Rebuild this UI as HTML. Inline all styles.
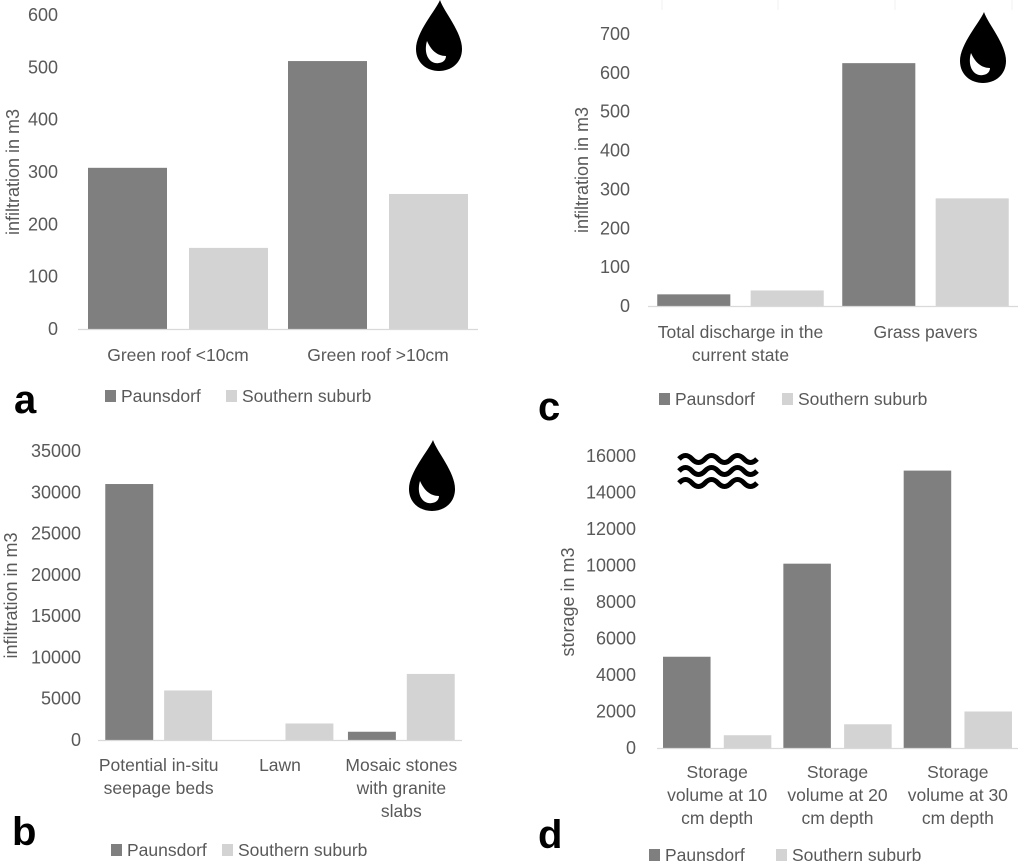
<!DOCTYPE html>
<html><head><meta charset="utf-8"><style>
html,body{margin:0;padding:0;background:#fff;}
svg{display:block;font-family:"Liberation Sans",sans-serif;}
</style></head><body>
<svg id="fig" width="1024" height="863" viewBox="0 0 1024 863" xmlns="http://www.w3.org/2000/svg">
<defs>
<g id="drop">
<path d="M1,-46 C-3,-36 -23,-14 -23,3 C-23,17 -12,25 0,25 C12,25 23,17 23,3 C23,-14 5,-34 1,-46 Z" fill="#000"/>
<path d="M-12,-5 C-15,5 -12,15 -4,17 C2,18 7,15 7,10 C-2,10 -8,4 -12,-5 Z" fill="#fff"/>
</g>
</defs>
</svg>
<script>
// Panel a
const catsA = ["Green roof <10cm", "Green roof >10cm"];
const paunsA = [308, 512];
const southA = [155, 258];
const ticksA = [0, 100, 200, 300, 400, 500, 600];
// Panel c
const catsC = [["Total discharge in the", "current state"], ["Grass pavers"]];
const paunsC = [30, 625];
const southC = [40, 277];
const ticksC = [0, 100, 200, 300, 400, 500, 600, 700];
// Panel b
const catsB = [["Potential in-situ", "seepage beds"], ["Lawn"], ["Mosaic stones", "with granite", "slabs"]];
const paunsB = [31000, 0, 1000];
const southB = [6000, 2000, 8000];
const ticksB = [0, 5000, 10000, 15000, 20000, 25000, 30000, 35000];
// Panel d
const catsD = [["Storage", "volume at 10", "cm depth"], ["Storage", "volume at 20", "cm depth"], ["Storage", "volume at 30", "cm depth"]];
const paunsD = [5000, 10100, 15200];
const southD = [700, 1300, 2000];
const ticksD = [0, 2000, 4000, 6000, 8000, 10000, 12000, 14000, 16000];

const NS = "http://www.w3.org/2000/svg";
const svg = document.getElementById("fig");
function mk(tag, attrs, parent) {
  const e = document.createElementNS(NS, tag);
  for (const k in attrs) e.setAttribute(k, attrs[k]);
  (parent || svg).appendChild(e);
  return e;
}
function txt(str, attrs, parent) { const t = mk("text", attrs, parent); t.textContent = str; return t; }

function panel(cfg) {
  const g = mk("g", {});
  
  
  const maxV = cfg.ticks[cfg.ticks.length - 1];
  const y = v => cfg.y0 - (v / maxV) * (cfg.y0 - cfg.yTop);
  const n = cfg.cats.length;
  const gw = (cfg.x1 - cfg.x0) / n;
  const xs = i => cfg.x0 + i * gw;
  cfg.ticks.forEach(t => {
    const l = txt(String(t), {x: cfg.labX, y: y(t) + 6, "text-anchor": "end", "font-size": 18, fill: "#595959"}, g);
    
    
  });
  const ty = (cfg.y0 + cfg.yTop) / 2;
  const at = txt(cfg.ytitle, {x: cfg.titleX, y: ty, transform: `rotate(-90 ${cfg.titleX} ${ty})`, "text-anchor": "middle", "font-size": 18, fill: "#595959"}, g);
  
  
  for (let i = 0; i < n; i++) {
    const pad = gw * cfg.padFrac, bw = gw * cfg.barFrac, gap = gw - 2 * pad - 2 * bw;
    const bx1 = xs(i) + pad, bx2 = bx1 + bw + gap;
    const vp = cfg.p[i], vs = cfg.s[i];
    const r1 = mk("rect", {x: bx1, y: y(vp), width: bw, height: cfg.y0 - y(vp), fill: "#7f7f7f"}, g);
    
    
    const r2 = mk("rect", {x: bx2, y: y(vs), width: bw, height: cfg.y0 - y(vs), fill: "#d3d3d3"}, g);
    
    
    const lines = Array.isArray(cfg.cats[i]) ? cfg.cats[i] : [cfg.cats[i]];
    lines.forEach((s, k) => {
      const c = txt(s, {x: xs(i) + gw / 2, y: cfg.catY + k * 23, "text-anchor": "middle", "font-size": 17.5, fill: "#595959"}, g);
      
      
    });
  }
  const ax = mk("line", {x1: cfg.x0, x2: cfg.x1, y1: cfg.y0 + 0.5, y2: cfg.y0 + 0.5, stroke: "#d9d9d9", "stroke-width": 1.2}, g);
  
  
  const lg = mk("g", {}, g);
  
  
  const e1 = mk("rect", {x: cfg.legX1, y: cfg.legY - 12, width: 11, height: 12, fill: "#7f7f7f"}, lg);
  
  
  const t1 = txt("Paunsdorf", {x: cfg.legX1 + 16, y: cfg.legY, "font-size": 17.5, fill: "#595959"}, lg);
  
  
  const e2 = mk("rect", {x: cfg.legX2, y: cfg.legY - 12, width: 11, height: 12, fill: "#d3d3d3"}, lg);
  
  
  const t2 = txt("Southern suburb", {x: cfg.legX2 + 16, y: cfg.legY, "font-size": 17.5, fill: "#595959"}, lg);
  
  
  const pl = txt(cfg.letter, {x: cfg.letX, y: cfg.letY, "font-size": 40, "font-weight": "bold", fill: "#000"}, g);
  
  
  return g;
}

panel({name: "chart-a", cats: catsA, p: paunsA, s: southA, ticks: ticksA, y0: 329, yTop: 15, x0: 78, x1: 478,
  padFrac: 0.05, barFrac: 0.395, labX: 58, titleX: 19, ytitle: "infiltration in m3", catY: 361, legX1: 105, legX2: 226, legY: 402, letter: "a", letX: 14, letY: 413});
panel({name: "chart-c", cats: catsC, p: paunsC, s: southC, ticks: ticksC, y0: 306, yTop: 34, x0: 648, x1: 1018,
  padFrac: 0.05, barFrac: 0.395, labX: 630, titleX: 588, ytitle: "infiltration in m3", catY: 338, legX1: 659, legX2: 782, legY: 405, letter: "c", letX: 538, letY: 420});
panel({name: "chart-b", cats: catsB, p: paunsB, s: southB, ticks: ticksB, y0: 740, yTop: 451, x0: 98, x1: 462,
  padFrac: 0.06, barFrac: 0.395, labX: 81, titleX: 17, ytitle: "infiltration in m3", catY: 771, legX1: 111, legX2: 222, legY: 856, letter: "b", letX: 12, letY: 845});
panel({name: "chart-d", cats: catsD, p: paunsD, s: southD, ticks: ticksD, y0: 748, yTop: 456, x0: 657, x1: 1018,
  padFrac: 0.05, barFrac: 0.395, labX: 636, titleX: 574, ytitle: "storage in m3", catY: 778, legX1: 649, legX2: 776, legY: 861, letter: "d", letX: 538, letY: 848});

[662, 778, 895, 1012].forEach(x => {
  const l = mk("line", {x1: x, x2: x, y1: 0, y2: 10, stroke: "#f0f0f0", "stroke-width": 1});
  
  
});

[[439, 46], [983, 58], [432, 486]].forEach(([x, yy]) => {
  const u = mk("use", {href: "#drop", transform: `translate(${x} ${yy})`});
  
  
});
const waves = mk("g", {fill: "none", stroke: "#000", "stroke-width": 5});


[459, 471, 483].forEach(yy => {
  let d = `M679,${yy}`;
  for (let k = 0; k < 3; k++) {
    const x = 679 + k * 26;
    d += ` Q${x + 6.5},${yy - 7} ${x + 13},${yy} Q${x + 19.5},${yy + 7} ${x + 26},${yy}`;
  }
  mk("path", {d: d}, waves);
});
</script>
</body></html>
